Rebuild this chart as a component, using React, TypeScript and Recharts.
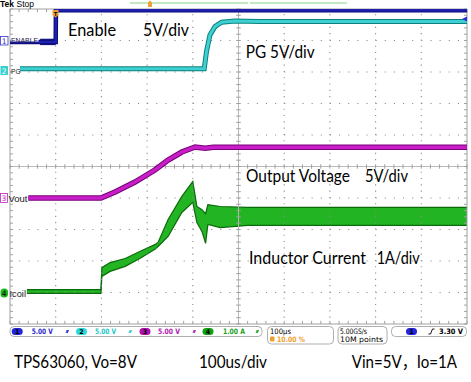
import React from 'react';
import { ComposedChart, Line, Area, XAxis, YAxis, ReferenceLine } from 'recharts';

// time base: 100 µs/div, trigger at 10 %, so screen spans -100 .. 900 µs
const xTicks = [-100, 0, 100, 200, 300, 400, 500, 600, 700, 800, 900];
const yTicks = [0, 1, 2, 3, 4, 5, 6, 7, 8, 9, 10];

// CH1 Enable (5 V/div)
const enableTime = [-100, 0, 0.5, 900];
const enableVolts = [0, 0, 5.05, 5.05];
const enableNoiseTime = [-34, 0];
const enableNoiseLo = [-0.4, -0.4];
const enableNoiseHi = [0.45, 0.45];

// CH2 PG (5 V/div)
const pgTime = [-78, 325, 330, 337.6, 348.6, 363, 392, 447, 900];
const pgVolts = [0, 0, 2.75, 5.4, 6.71, 7.41, 7.6, 7.5, 7.5];

// CH3 Vout (5 V/div)
const voutTime = [-60, 99, 130, 173.5, 217, 246, 276, 305, 327, 345, 900];
const voutVolts = [0, 0, 0.95, 2.54, 4.44, 6.03, 7.3, 8.1, 7.9, 8.05, 8.05];

// CH4 Icoil (1 A/div), ripple envelope low/high
const icoilTime = [-63, 99, 101, 119, 152, 184, 217, 224, 246, 276, 300, 309, 320, 328, 333, 360, 420, 900];
const icoilLow = [-0.03, -0.03, 0.51, 0.67, 0.83, 1.08, 1.37, 1.46, 1.78, 2.54, 2.86, 2.22, 1.94, 1.56, 2.16, 2.06, 2.13, 2.13];
const icoilHigh = [0.09, 0.09, 0.79, 0.95, 1.08, 1.3, 1.52, 1.59, 2.32, 3.05, 3.52, 2.73, 2.63, 2.5, 2.79, 2.73, 2.7, 2.7];

// channel ground positions (div from centre) and scales
const POS1 = 3.95, POS2 = 3.1, POS3 = -1.0, POS4 = -4.0;
const toDiv = (v: number, pos: number, scale: number) => 5 + pos + v / scale;

const enableData = enableTime.map((t, i) => ({ t, y: toDiv(enableVolts[i], POS1, 5) }));
const enableNoise = enableNoiseTime.map((t, i) => ({ t, y: [toDiv(enableNoiseLo[i], POS1, 5), toDiv(enableNoiseHi[i], POS1, 5)] }));
const pgData = pgTime.map((t, i) => ({ t, y: toDiv(pgVolts[i], POS2, 5) }));
const voutData = voutTime.map((t, i) => ({ t, y: toDiv(voutVolts[i], POS3, 5) }));
const icoilData = icoilTime.map((t, i) => ({ t, y: [toDiv(icoilLow[i], POS4, 1), toDiv(icoilHigh[i], POS4, 1)] }));

const minorX = Array.from({ length: 51 }, (_, i) => -100 + i * 20);
const minorY = Array.from({ length: 51 }, (_, i) => +(i * 0.2).toFixed(2));

const GRID = '#a0a0a0';
const DOTS = '#8a8a8a';

function gridLines() {
    const out: any[] = [];
    xTicks.slice(1, -1).forEach((x) => {
        if (x !== 400) out.push(<ReferenceLine key={'gx' + x} x={x} stroke={DOTS} strokeWidth={1.1} strokeDasharray="1.1 5.2" ifOverflow="visible" />);
    });
    yTicks.slice(1, -1).forEach((y) => {
        if (y !== 5) out.push(<ReferenceLine key={'gy' + y} y={y} stroke={DOTS} strokeWidth={1.1} strokeDasharray="1.1 8.04" ifOverflow="visible" />);
    });
    return out;
}

function tickLines() {
    const out: any[] = [];
    minorX.forEach((x, i) => {
        out.push(<ReferenceLine key={'hc' + i} segment={[{ x, y: 4.93 }, { x, y: 5.07 }]} stroke={GRID} ifOverflow="visible" />);
        out.push(<ReferenceLine key={'hb' + i} segment={[{ x, y: 0 }, { x, y: 0.1 }]} stroke={GRID} ifOverflow="visible" />);
        out.push(<ReferenceLine key={'ht' + i} segment={[{ x, y: 9.9 }, { x, y: 10 }]} stroke={GRID} ifOverflow="visible" />);
    });
    minorY.forEach((y, i) => {
        out.push(<ReferenceLine key={'vc' + i} segment={[{ x: 395, y }, { x: 405, y }]} stroke={GRID} ifOverflow="visible" />);
        out.push(<ReferenceLine key={'vl' + i} segment={[{ x: -100, y }, { x: -93.5, y }]} stroke={GRID} ifOverflow="visible" />);
        out.push(<ReferenceLine key={'vr' + i} segment={[{ x: 893.5, y }, { x: 900, y }]} stroke={GRID} ifOverflow="visible" />);
    });
    return out;
}

const big = { fontFamily: 'Lato, "Noto Sans CJK SC", sans-serif', fontSize: 16.5, fill: '#000' };
const small = { fontFamily: '"DejaVu Sans", sans-serif', fontSize: 7.5, fontWeight: 700 };

function Label({ x, y, w, children, size = 16.5 }: { x: number; y: number; w: number; children: string; size?: number }) {
    return <text x={x} y={y} style={{ ...big, fontSize: size }} textLength={w} lengthAdjust="spacingAndGlyphs">{children}</text>;
}

function Pill({ x, color, label }: { x: number; color: string; label: string }) {
    return (
        <g>
            <rect x={x} y={328} width={11} height={7} rx={3.5} fill={color} />
            <text x={x + 5.5} y={334} textAnchor="middle" style={{ ...small, fontSize: 6.5 }} fill="#000">{label}</text>
        </g>
    );
}

function Zig({ x, color }: { x: number; color: string }) {
    return <path d={`M${x},333 l1.3,-3 l0,3 l1.3,-3`} stroke={color} fill="none" strokeWidth={0.9} />;
}

function Overlay() {
    return (
        <svg width={471} height={382} style={{ position: 'absolute', left: 0, top: 0, pointerEvents: 'none' }}>
            {/* header */}
            <text x={0} y={7} style={{ fontFamily: 'Liberation Sans, sans-serif', fontSize: 8.5, fontWeight: 700 }}>Tek</text>
            <text x={16.5} y={7} style={{ fontFamily: 'Liberation Sans, sans-serif', fontSize: 8.5 }}>Stop</text>
            <line x1={130} y1={3} x2={248} y2={3} stroke="#86d486" strokeWidth={1.2} />
            <line x1={250} y1={3} x2={347} y2={3} stroke="#86d486" strokeWidth={1.2} />
            <path d="M148,7 L148,2.5 L150,0.5 L152,2.5 L152,7 Z" fill="#f0a030" />
            {/* trigger marker */}
            <path d="M52.5,10 L58.5,10 L58.5,15 L55.5,17.5 L52.5,15 Z" fill="#f0a030" />
            <text x={55.5} y={15.5} textAnchor="middle" style={{ fontFamily: 'Liberation Sans, sans-serif', fontSize: 6, fontWeight: 700 }}>T</text>
            <path d="M467,16.5 L462,19 L467,21.5 Z" fill="#2a2ad8" />

            {/* channel markers */}
            <rect x={0.5} y={36.5} width={7.5} height={8.5} fill="#fff" stroke="#3535c8" strokeWidth={0.8} />
            <text x={4.2} y={43.5} textAnchor="middle" style={{ ...small, fontWeight: 400, fontSize: 7.5 }} fill="#3535c8">1</text>
            <rect x={10.5} y={36.5} width={28} height={5} fill="#fff" />
            <text x={11} y={42.5} style={{ fontFamily: 'Liberation Sans, sans-serif', fontSize: 8 }} textLength={27} lengthAdjust="spacingAndGlyphs" fill="#101040">ENABLE</text>

            <rect x={0.5} y={66} width={7.5} height={9} fill="#38d0d0" />
            <text x={4.2} y={73.5} textAnchor="middle" style={{ ...small, fontWeight: 400, fontSize: 7.5 }} fill="#fff">2</text>
            <text x={11} y={73.5} style={{ fontFamily: 'Liberation Sans, sans-serif', fontSize: 8 }} textLength={9.5} lengthAdjust="spacingAndGlyphs" fill="#202020">PG</text>

            <rect x={0.5} y={193.5} width={7} height={9} fill="#fff" stroke="#c020c0" strokeWidth={0.8} />
            <text x={4} y={201} textAnchor="middle" style={{ ...small, fontWeight: 400, fontSize: 7.5 }} fill="#c020c0">3</text>
            <text x={8.5} y={201.5} style={{ fontFamily: 'Liberation Sans, sans-serif', fontSize: 8.5 }} textLength={19} lengthAdjust="spacingAndGlyphs" fill="#202020">Vout</text>

            <rect x={0.5} y={288.5} width={7.5} height={9} rx={3.5} fill="#1eb81e" />
            <text x={4.2} y={296} textAnchor="middle" style={{ ...small, fontWeight: 400, fontSize: 7.5 }} fill="#000">4</text>
            <text x={9.5} y={296.5} style={{ fontFamily: 'Liberation Sans, sans-serif', fontSize: 8.5 }} textLength={16.5} lengthAdjust="spacingAndGlyphs" fill="#202020">Icoil</text>

            {/* annotations */}
            <Label x={68} y={35.7} w={48}>Enable</Label>
            <Label x={143} y={35.7} w={46}>5V/div</Label>
            <Label x={245.7} y={58.3} w={69}>PG 5V/div</Label>
            <Label x={246} y={181.7} w={104}>Output Voltage</Label>
            <Label x={365} y={181.7} w={43}>5V/div</Label>
            <Label x={249} y={264} w={117}>Inductor Current</Label>
            <Label x={376.7} y={264} w={43}>1A/div</Label>

            {/* status bar */}
            <rect x={10} y={326.5} width={252} height={10} rx={4} fill="#fff" stroke="#9a9a9a" strokeWidth={0.8} />
            <Pill x={11.7} color="#2323d8" label="1" />
            <text x={31.7} y={334.3} style={small} fill="#2828d0" textLength={21} lengthAdjust="spacingAndGlyphs">5.00 V</text>
            <Zig x={66} color="#2828d0" />
            <Pill x={76} color="#2adada" label="2" />
            <text x={95} y={334.3} style={small} fill="#22c8c8" textLength={21} lengthAdjust="spacingAndGlyphs">5.00 V</text>
            <Zig x={129} color="#22c8c8" />
            <Pill x={139.5} color="#b010b0" label="3" />
            <text x={158} y={334.3} style={small} fill="#b018b0" textLength={22} lengthAdjust="spacingAndGlyphs">5.00 V</text>
            <Zig x={193} color="#b018b0" />
            <Pill x={202.5} color="#10a010" label="4" />
            <text x={223} y={334.3} style={small} fill="#18a018" textLength={22} lengthAdjust="spacingAndGlyphs">1.00 A</text>
            <Zig x={256} color="#18a018" />

            <rect x={267.5} y={326.5} width={66} height={17.5} rx={4} fill="#fff" stroke="#9a9a9a" strokeWidth={0.8} />
            <text x={270} y={333.8} style={{ ...small, fontWeight: 400 }} fill="#000" textLength={21} lengthAdjust="spacingAndGlyphs">100µs</text>
            <rect x={270} y={336.5} width={4.5} height={5} rx={1} fill="#f0a030" />
            <text x={277} y={342} style={small} fill="#f0a030" textLength={28} lengthAdjust="spacingAndGlyphs">10.00 %</text>

            <rect x={338} y={326.5} width={49} height={17.5} rx={4} fill="#fff" stroke="#9a9a9a" strokeWidth={0.8} />
            <text x={340} y={333.8} style={{ ...small, fontWeight: 400 }} fill="#000" textLength={27} lengthAdjust="spacingAndGlyphs">5.00GS/s</text>
            <text x={340} y={342} style={{ ...small, fontWeight: 400 }} fill="#000" textLength={43} lengthAdjust="spacingAndGlyphs">10M points</text>

            <rect x={391.5} y={326.5} width={75} height={10} rx={4} fill="#fff" stroke="#9a9a9a" strokeWidth={0.8} />
            <Pill x={406} color="#2323d8" label="1" />
            <path d="M428.5,334 L430.5,334 L432.5,329 L434.5,329" stroke="#000" fill="none" strokeWidth={0.9} />
            <text x={439} y={334.3} style={small} fill="#000" textLength={24} lengthAdjust="spacingAndGlyphs">3.30 V</text>

            {/* caption */}
            <Label x={14} y={367.7} w={123}>TPS63060, Vo=8V</Label>
            <Label x={199} y={367.7} w={68}>100us/div</Label>
            <Label x={351.7} y={367.7} w={105.3}>Vin=5V，Io=1A</Label>
        </svg>
    );
}

export default function App() {
    return (
        <div style={{ position: 'absolute', left: 0, top: 0, width: 471, height: 382, background: '#fff' }}>
            <ComposedChart width={471} height={382} margin={{ top: 9, right: 4, bottom: 58, left: 10 }}>
                <XAxis dataKey="t" type="number" domain={[-100, 900]} ticks={xTicks} height={0} tick={false} tickLine={false} axisLine={false} allowDataOverflow />
                <YAxis type="number" domain={[0, 10]} ticks={yTicks} width={0} tick={false} tickLine={false} axisLine={false} allowDataOverflow />
                {gridLines()}
                <ReferenceLine x={400} stroke="#b8b8b8" ifOverflow="visible" />
                <ReferenceLine y={5} stroke="#b8b8b8" ifOverflow="visible" />
                <ReferenceLine x={-100} stroke={GRID} ifOverflow="visible" />
                <ReferenceLine x={900} stroke={GRID} ifOverflow="visible" />
                <ReferenceLine y={0} stroke={GRID} ifOverflow="visible" />
                <ReferenceLine y={10} stroke={GRID} ifOverflow="visible" />
                {tickLines()}

                <Area data={icoilData} dataKey="y" type="linear" fill="#22b422" fillOpacity={1} stroke="#0b6a0b" strokeWidth={1.2} isAnimationActive={false} dot={false} activeDot={false} />

                <Line data={voutData} dataKey="y" type="linear" stroke="#780078" strokeWidth={5.5} dot={false} activeDot={false} isAnimationActive={false} />
                <Line data={voutData} dataKey="y" type="linear" stroke="#c81ec8" strokeWidth={3.5} dot={false} activeDot={false} isAnimationActive={false} />

                <Line data={pgData} dataKey="y" type="linear" stroke="#0c8080" strokeWidth={5} dot={false} activeDot={false} isAnimationActive={false} />
                <Line data={pgData} dataKey="y" type="linear" stroke="#3ed0d0" strokeWidth={3} dot={false} activeDot={false} isAnimationActive={false} />

                <Area data={enableNoise} dataKey="y" type="linear" fill="#1818a0" fillOpacity={1} stroke="#0a0a70" strokeWidth={1} isAnimationActive={false} dot={false} activeDot={false} />
                <Line data={enableData} dataKey="y" type="linear" stroke="#0a0a78" strokeWidth={4.5} dot={false} activeDot={false} isAnimationActive={false} />
                <Line data={enableData} dataKey="y" type="linear" stroke="#2020b0" strokeWidth={2.5} dot={false} activeDot={false} isAnimationActive={false} />
            </ComposedChart>
            <Overlay />
        </div>
    );
}
